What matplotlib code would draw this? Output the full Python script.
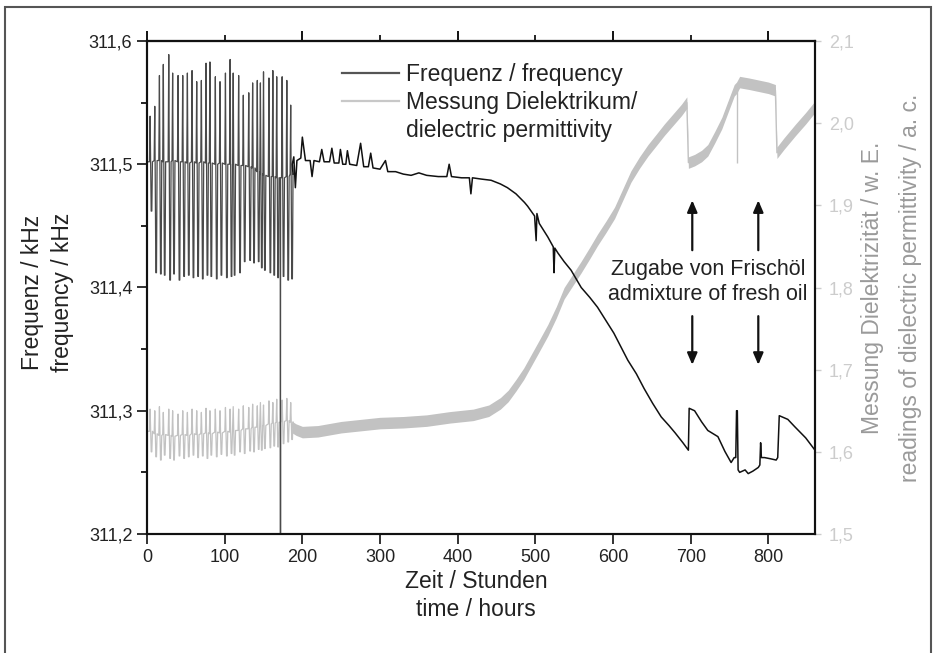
import numpy as np
import matplotlib
matplotlib.use("Agg")
import matplotlib.pyplot as plt
from matplotlib.lines import Line2D
from matplotlib.patches import Rectangle
from matplotlib.ticker import FuncFormatter, MultipleLocator

plt.rcParams['font.family'] = ['Liberation Sans', 'DejaVu Sans']

# --- data ---
# oscillating start (0..187 h): spike times, frequency tops/bottoms/baseline
osc_t = [4, 10, 16, 21, 28, 33, 40, 46, 52, 58, 64, 70, 76, 81, 88, 94,
         101, 107, 111, 118, 124, 131, 136, 142, 146, 150, 157, 162, 167, 174, 180, 185]
freq_osc_top = [311.539, 311.547, 311.572, 311.581, 311.589, 311.574, 311.572, 311.572,
                311.574, 311.576, 311.567, 311.568, 311.582, 311.583, 311.571, 311.567,
                311.574, 311.585, 311.574, 311.572, 311.556, 311.558, 311.566, 311.568,
                311.566, 311.575, 311.570, 311.576, 311.571, 311.571, 311.568, 311.548]
freq_osc_bot = [311.462, 311.412, 311.411, 311.410, 311.406, 311.411, 311.406, 311.409,
                311.410, 311.408, 311.409, 311.407, 311.410, 311.409, 311.407, 311.410,
                311.408, 311.409, 311.410, 311.412, 311.421, 311.422, 311.420, 311.421,
                311.416, 311.414, 311.412, 311.410, 311.408, 311.409, 311.406, 311.407]
freq_osc_base = [311.502, 311.503, 311.503, 311.502, 311.502, 311.503, 311.502, 311.502,
                 311.501, 311.502, 311.501, 311.502, 311.501, 311.501, 311.500, 311.501,
                 311.500, 311.500, 311.500, 311.499, 311.499, 311.498, 311.497, 311.494,
                 311.492, 311.491, 311.490, 311.490, 311.489, 311.489, 311.490, 311.492]
die_osc_top = [1.652, 1.650, 1.655, 1.648, 1.652, 1.650, 1.646, 1.650, 1.648, 1.652, 1.650,
               1.648, 1.653, 1.650, 1.652, 1.650, 1.654, 1.652, 1.655, 1.652, 1.656, 1.654,
               1.658, 1.656, 1.660, 1.657, 1.662, 1.660, 1.664, 1.663, 1.665, 1.660]
die_osc_bot = [1.600, 1.594, 1.590, 1.596, 1.592, 1.590, 1.595, 1.592, 1.594, 1.596, 1.593,
               1.595, 1.592, 1.596, 1.594, 1.597, 1.595, 1.598, 1.596, 1.600, 1.598, 1.601,
               1.600, 1.603, 1.602, 1.604, 1.605, 1.607, 1.606, 1.610, 1.612, 1.615]
die_osc_base = [1.625, 1.622, 1.620, 1.621, 1.620, 1.619, 1.620, 1.621, 1.620, 1.622, 1.621,
                1.622, 1.623, 1.622, 1.624, 1.623, 1.625, 1.624, 1.626, 1.626, 1.628, 1.628,
                1.630, 1.630, 1.632, 1.632, 1.634, 1.635, 1.636, 1.637, 1.638, 1.636]

# dropout at ~172 h
drop_t = 171.8

# frequency after the oscillating part
freq_t = [187, 189, 191, 193, 198, 200, 204, 210, 212.5, 215, 222, 225, 228, 235, 238, 241,
          247, 249, 252, 256, 258, 261, 270, 275, 279, 285, 288, 291, 300, 307, 310, 320,
          330, 340, 350, 360, 375, 386, 389, 392, 405, 415, 417, 419, 430, 443, 455, 464,
          475, 486, 490, 499, 501, 502, 505, 516, 523, 524, 525, 529, 537, 546, 559, 570,
          580, 590, 601, 610, 619, 630, 640, 651, 662, 672, 680, 690, 697, 698, 705, 714,
          722, 735, 744, 752, 756, 758, 759, 760, 761, 763, 770, 774, 780, 787, 789, 790,
          791, 795, 803, 810, 812, 814, 825, 834, 848, 860]
freq_v = [311.500, 311.506, 311.481, 311.503, 311.505, 311.522, 311.503, 311.503, 311.490,
          311.503, 311.502, 311.512, 311.502, 311.502, 311.513, 311.501, 311.501, 311.512,
          311.500, 311.500, 311.511, 311.500, 311.499, 311.517, 311.498, 311.498, 311.509,
          311.497, 311.496, 311.503, 311.494, 311.494, 311.492, 311.491, 311.493, 311.491,
          311.490, 311.490, 311.500, 311.490, 311.489, 311.489, 311.476, 311.489, 311.488,
          311.487, 311.484, 311.481, 311.476, 311.469, 311.466, 311.458, 311.438, 311.460,
          311.452, 311.441, 311.433, 311.412, 311.432, 311.428, 311.421, 311.414, 311.400,
          311.392, 311.384, 311.374, 311.363, 311.352, 311.341, 311.330, 311.318, 311.306,
          311.295, 311.288, 311.282, 311.274, 311.268, 311.302, 311.300, 311.291, 311.284,
          311.279, 311.267, 311.258, 311.262, 311.262, 311.300, 311.300, 311.252, 311.250,
          311.252, 311.249, 311.251, 311.254, 311.256, 311.274, 311.262, 311.262, 311.261,
          311.260, 311.262, 311.296, 311.293, 311.287, 311.278, 311.268]

# dielectric reading after the oscillating part (centre of the noisy band)
die_t = [187, 192, 200, 220, 250, 280, 300, 330, 360, 390, 420, 440, 455, 465, 475, 485,
         495, 505, 516, 527, 537, 548, 559, 570, 580, 591, 602, 612, 623, 634, 645, 656,
         666, 677, 688, 695, 697, 705, 714, 722, 731, 740, 748, 756, 759, 763, 775, 790,
         800, 809, 811, 820, 835, 848, 860]
die_v = [1.630, 1.627, 1.624, 1.625, 1.630, 1.633, 1.635, 1.636, 1.638, 1.642, 1.645, 1.650,
         1.659, 1.668, 1.681, 1.695, 1.712, 1.729, 1.748, 1.770, 1.793, 1.809, 1.825, 1.842,
         1.858, 1.874, 1.891, 1.912, 1.935, 1.952, 1.967, 1.980, 1.992, 2.004, 2.016, 2.025,
         1.952, 1.955, 1.960, 1.967, 1.983, 2.000, 2.020, 2.040, 2.043, 2.050, 2.048, 2.045,
         2.043, 2.040, 1.964, 1.975, 1.992, 2.006, 2.020]
die_spike_t = 760
die_spike_lo = 1.952
die_spike_hi = 2.045

arrow_x = [702, 787]

# --- build the traces ---
def zigzag(t, top, bot, base, t_drop, drop_to):
    xs, ys = [0.0], [base[0]]
    for i in range(len(t)):
        xs += [t[i] - 0.8, t[i], t[i] + 1.4, t[i] + 2.2, t[i] + 3.0]
        ys += [base[i], top[i], bot[i], bot[i], base[i]]
        if i + 1 < len(t) and t[i] + 3.0 < t_drop < t[i + 1] - 0.8:
            xs += [t_drop - 0.2, t_drop, t_drop + 0.2]
            ys += [base[i], drop_to, base[i]]
    return xs, ys

fx, fy = zigzag(osc_t, freq_osc_top, freq_osc_bot, freq_osc_base, drop_t, 311.10)
dx, dy = zigzag(osc_t, die_osc_top, die_osc_bot, die_osc_base, drop_t + 0.3, 1.40)

fig = plt.figure(figsize=(9.36, 6.53), dpi=100)
ax = fig.add_axes([147 / 936, 1 - 534 / 653, (815 - 147) / 936, (534 - 41) / 653])
ax2 = ax.twinx()
ax.set_zorder(ax2.get_zorder() + 1)
ax.patch.set_visible(False)

grey = '#c2c2c2'
# dielectric
ax2.plot(dx, dy, color=grey, lw=0.9)
dt = np.array(die_t)
dv = np.array(die_v)
ax2.fill_between(dt, dv - 0.007, dv + 0.007, color=grey, lw=0)
ax2.plot(die_t, die_v, color=grey, lw=1.0)
ax2.plot([dx[-1], die_t[0]], [dy[-1], die_v[0]], color=grey, lw=0.9)
ax2.vlines(die_spike_t, die_spike_lo, die_spike_hi, color=grey, lw=1.0)

# frequency
ax.plot(fx, fy, color='#4a4a4a', lw=0.9)
ax.plot([fx[-1]] + freq_t, [fy[-1]] + freq_v, color='#111111', lw=1.1)

ax.set_xlim(0, 860)
ax.set_ylim(311.2, 311.6)
ax2.set_ylim(1.5, 2.1)

comma = FuncFormatter(lambda v, p: f"{v:.1f}".replace('.', ','))
ax.yaxis.set_major_locator(MultipleLocator(0.1))
ax.yaxis.set_minor_locator(MultipleLocator(0.05))
ax.yaxis.set_major_formatter(comma)
ax.xaxis.set_major_locator(MultipleLocator(100))
ax2.yaxis.set_major_locator(MultipleLocator(0.1))
ax2.yaxis.set_major_formatter(comma)

ax.tick_params(axis='both', which='major', direction='out', length=7, width=1.3,
               labelsize=13, colors='#222222')
ax.tick_params(axis='y', which='minor', direction='out', length=4, width=1.2)
ax.tick_params(axis='x', pad=4)
ax2.tick_params(axis='y', direction='out', length=4, width=1.0, colors='#cccccc',
                labelsize=13, pad=6)

top = ax.secondary_xaxis('top')
top.set_xticks([0, 200, 400, 600, 800])
top.set_xticks([100, 300, 500, 700], minor=True)
top.set_xticklabels([])
top.tick_params(which='major', direction='out', length=7, width=1.3)
top.tick_params(which='minor', direction='out', length=4, width=1.2)
top.spines['top'].set_linewidth(1.5)

for a in (ax, ax2):
    for s in a.spines.values():
        s.set_linewidth(1.5)
        s.set_color('#111111')

# axis titles
fig.text(33 / 936, 1 - 292 / 653, 'Frequenz / kHz', rotation=90, ha='center', va='center',
         fontsize=16.5, color='#222222')
fig.text(63 / 936, 1 - 292 / 653, 'frequency / kHz', rotation=90, ha='center', va='center',
         fontsize=16.5, color='#222222')
fig.text(476 / 936, 1 - 582 / 653, 'Zeit / Stunden', ha='center', va='center',
         fontsize=16.5, color='#222222')
fig.text(476 / 936, 1 - 610 / 653, 'time / hours', ha='center', va='center',
         fontsize=16.5, color='#222222')
fig.text(873 / 936, 1 - 288 / 653, 'Messung Dielektrizität / w. E.', rotation=90,
         ha='center', va='center', fontsize=16.5, color='#9a9a9a')
fig.text(910 / 936, 1 - 288 / 653, 'readings of dielectric permittivity / a. c.', rotation=90,
         ha='center', va='center', fontsize=16.5, color='#9a9a9a')

# legend
handles = [Line2D([], [], color='#555555', lw=1.6),
           Line2D([], [], color='#c8c8c8', lw=1.6),
           Line2D([], [], color='none')]
ax.legend(handles, ['Frequenz / frequency', 'Messung Dielektrikum/', 'dielectric permittivity'],
          loc='upper left', bbox_to_anchor=(342 / 936, 1 - 63 / 653),
          bbox_transform=fig.transFigure, frameon=False, fontsize=16.5,
          handlelength=2.5, handletextpad=0.3, borderpad=0, borderaxespad=0,
          labelspacing=0.22, labelcolor='#222222')

# annotation with arrows
ax.text(722, 311.4045, 'Zugabe von Frischöl\nadmixture of fresh oil', ha='center', va='center',
        fontsize=15.5, color='#222222', linespacing=1.2)
for xa in arrow_x:
    ax.annotate('', xy=(xa, 311.473), xytext=(xa, 311.428),
                arrowprops=dict(arrowstyle='-|>,head_length=0.7,head_width=0.3',
                                color='#111111', lw=1.6))
    ax.annotate('', xy=(xa, 311.335), xytext=(xa, 311.379),
                arrowprops=dict(arrowstyle='-|>,head_length=0.7,head_width=0.3',
                                color='#111111', lw=1.6))

# outer frame
fig.patches.append(Rectangle((5 / 936, -0.05), 926 / 936, 1 - 7 / 653 + 0.05,
                             transform=fig.transFigure, fill=False, ec='#555555', lw=1.5))

fig.savefig('out.png', dpi=100)
